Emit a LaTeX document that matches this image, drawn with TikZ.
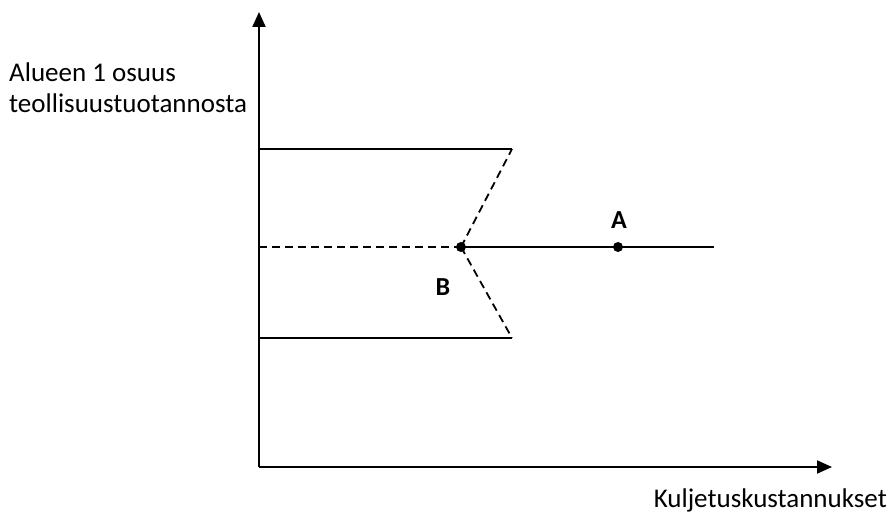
\documentclass[tikz,border=0pt]{standalone}
\usepackage{fontspec}
\setmainfont{Carlito}
\usetikzlibrary{arrows.meta}
\tikzset{
  axis/.style={line width=2pt,-{Triangle[length=15pt,width=13pt]}},
  curve/.style={line width=1.8pt},
  dashline/.style={curve,dash pattern=on 8pt off 5pt},
  dot/.style={circle,fill,inner sep=0pt,minimum size=10pt},
  lbl/.style={font=\fontsize{27}{31}\selectfont},
  pointlbl/.style={font=\bfseries\fontsize{26}{31}\selectfont},
}
\begin{document}
\begin{tikzpicture}[x=1pt,y=1pt]
        \useasboundingbox (0,0) rectangle (889,517);
        \coordinate (O) at (259,50);
        \coordinate (ytop) at (259,505);
        \coordinate (xend) at (832,50);
        \draw[axis] (O) -- (ytop);
        \draw[axis] (O) -- (xend);
        \node[lbl,anchor=west,align=left,inner sep=0pt] (ylab) at (9,429) {Alueen 1 osuus\\teollisuustuotannosta};
        \node[lbl,anchor=east,inner sep=0pt] (xlab) at (887,17) {Kuljetuskustannukset};
        \coordinate (u0) at (259,368);
        \coordinate (u1) at (512,368);
        \coordinate (l0) at (259,179);
        \coordinate (l1) at (512,179);
        \coordinate (m0) at (259,270);
        \coordinate (m1) at (714,270);
        \node[dot] (B) at (461,270) {};
        \node[dot] (A) at (618,270) {};
        \draw[curve] (u0) -- (u1);
        \draw[curve] (l0) -- (l1);
        \draw[dashline] (m0) -- (B.center);
        \draw[curve] (B.center) -- (m1);
        \draw[dashline] (B.center) -- (u1);
        \draw[dashline] (B.center) -- (l1);
        \node[pointlbl] (Alab) at (619,297) {A};
        \node[pointlbl] (Blab) at (443,230) {B};
      \end{tikzpicture}
\end{document}
